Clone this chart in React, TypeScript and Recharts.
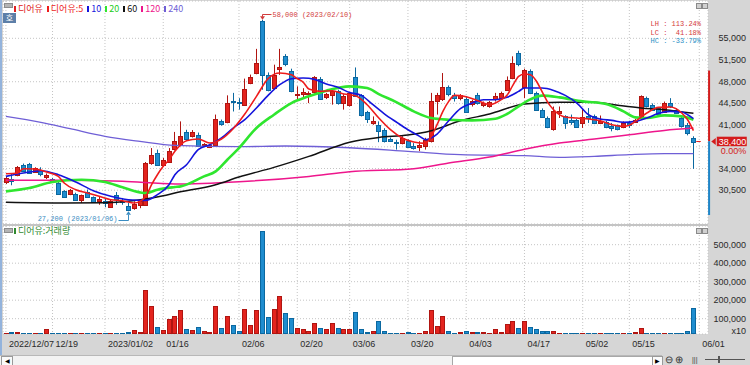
import {
  ComposedChart,
  Bar,
  Line,
  XAxis,
  YAxis,
  CartesianGrid,
  ReferenceDot,
  ReferenceLine,
} from "recharts";

// trading days (last two are empty future slots on the axis)
const dates = [
  "2022/12/07", "2022/12/08", "2022/12/09", "2022/12/12", "2022/12/13", "2022/12/14", "2022/12/15", "2022/12/16",
  "2022/12/19", "2022/12/20", "2022/12/21", "2022/12/22", "2022/12/23", "2022/12/26", "2022/12/27", "2022/12/28",
  "2022/12/29", "2023/01/02", "2023/01/03", "2023/01/04", "2023/01/05", "2023/01/06", "2023/01/09", "2023/01/10",
  "2023/01/11", "2023/01/12", "2023/01/13", "2023/01/16", "2023/01/17", "2023/01/18", "2023/01/19", "2023/01/20",
  "2023/01/25", "2023/01/26", "2023/01/27", "2023/01/30", "2023/01/31", "2023/02/01", "2023/02/02", "2023/02/03",
  "2023/02/06", "2023/02/07", "2023/02/08", "2023/02/09", "2023/02/10", "2023/02/13", "2023/02/14", "2023/02/15",
  "2023/02/16", "2023/02/17", "2023/02/20", "2023/02/21", "2023/02/22", "2023/02/23", "2023/02/24", "2023/02/27",
  "2023/02/28", "2023/03/02", "2023/03/03", "2023/03/06", "2023/03/07", "2023/03/08", "2023/03/09", "2023/03/10",
  "2023/03/13", "2023/03/14", "2023/03/15", "2023/03/16", "2023/03/17", "2023/03/20", "2023/03/21", "2023/03/22",
  "2023/03/23", "2023/03/24", "2023/03/27", "2023/03/28", "2023/03/29", "2023/03/30", "2023/03/31", "2023/04/03",
  "2023/04/04", "2023/04/05", "2023/04/06", "2023/04/07", "2023/04/10", "2023/04/11", "2023/04/12", "2023/04/13",
  "2023/04/14", "2023/04/17", "2023/04/18", "2023/04/19", "2023/04/20", "2023/04/21", "2023/04/24", "2023/04/25",
  "2023/04/26", "2023/04/27", "2023/04/28", "2023/05/02", "2023/05/03", "2023/05/04", "2023/05/08", "2023/05/09",
  "2023/05/10", "2023/05/11", "2023/05/12", "2023/05/15", "2023/05/16", "2023/05/17", "2023/05/18", "2023/05/19",
  "2023/05/22", "2023/05/23", "2023/05/24", "2023/05/25", "2023/05/26", "2023/05/30", "2023/05/31",
  "2023/06/01", "2023/06/02",
];

const opens = [
  31800, 32350, 32900, 34600, 34800, 33450, 33700, 32500, 32350, 31650,
  30400, 29900, 29900, 28800, 30150, 29350, 28800, 28800, 27900, 29750,
  28800, 28000, 27600, 28050, 28150, 34900, 36500, 34600, 35150, 37050,
  37850, 39900, 39200, 39450, 37750, 37500, 37750, 41600, 41500, 44950,
  44650, 44300, 47800, 49400, 57800, 49100, 47000, 50200, 52100, 49800,
  45900, 46100, 46000, 46350, 48500, 45450, 45900, 46450, 44550, 44300,
  48800, 45800, 43100, 41350, 41050, 40250, 38750, 38250, 38100, 38400,
  37700, 37500, 37750, 38400, 44850, 45100, 47100, 45900, 45250, 45250,
  44300, 45800, 44150, 44050, 45100, 45350, 46700, 48600, 52600, 47250,
  49800, 46200, 43500, 42150, 40250, 42800, 42400, 41850, 41850, 41350,
  42400, 42500, 41350, 41500, 40800, 40950, 40650, 41350, 41600, 42150,
  45350, 44300, 43750, 43100, 44550, 43500, 42150, 41050, 39000,
];

const highs = [
  32750, 33250, 34400, 34800, 34900, 34200, 34200, 33200, 32500, 31900,
  30500, 30700, 30100, 29800, 30600, 29500, 29500, 29250, 29000, 30200,
  29250, 28500, 28700, 29000, 35050, 37300, 37050, 35700, 37300, 39900,
  41600, 40250, 40200, 39800, 38100, 37900, 42700, 41900, 45800, 46200,
  45350, 48500, 49150, 53300, 58000, 49500, 50750, 53300, 52450, 50100,
  47250, 46950, 46450, 48900, 48750, 46200, 46850, 46700, 46000, 46350,
  50300, 46000, 43300, 42400, 41600, 40500, 39000, 38650, 39200, 38700,
  38100, 38400, 38950, 46200, 46200, 49400, 47400, 46200, 46000, 45700,
  45100, 46200, 44800, 44900, 46200, 46400, 48850, 52100, 53000, 50100,
  50000, 46400, 43700, 42400, 44000, 44000, 42600, 42700, 42000, 43750,
  43750, 42700, 42550, 41700, 41350, 41100, 41600, 41700, 42000, 45800,
  45600, 44500, 43900, 44800, 45350, 43700, 42300, 41350, 39200,
];

const lows = [
  31500, 31300, 32750, 33600, 33200, 33350, 32750, 32300, 31900, 29800,
  29300, 29700, 28900, 28450, 29300, 28500, 28150, 27750, 27700, 28150,
  28150, 27200, 27350, 27600, 28050, 34600, 34500, 34300, 35000, 36900,
  37600, 38600, 39000, 37600, 37500, 37300, 37500, 40900, 41300, 43200,
  43500, 44100, 47600, 49200, 46700, 46450, 46800, 49100, 50500, 46300,
  44950, 45350, 44550, 46100, 45100, 45200, 44300, 44300, 43500, 44000,
  45600, 42400, 41350, 41050, 38250, 38200, 38300, 37050, 37900, 37350,
  37050, 36800, 37050, 38200, 42700, 44900, 45650, 44800, 45000, 43000,
  44000, 44300, 43900, 43800, 44800, 45100, 46500, 48400, 50500, 45350,
  46000, 43300, 42200, 40500, 40100, 42150, 40400, 41050, 40600, 40550,
  41350, 41200, 41200, 40500, 40000, 40150, 40500, 40550, 41400, 41900,
  43850, 43300, 42650, 42950, 43750, 42800, 40600, 39350, 33950,
];

const closes = [
  32450, 32050, 34250, 33650, 33300, 34100, 33000, 32900, 32050, 29900,
  29400, 30600, 28950, 29650, 29350, 28600, 29050, 28450, 28800, 29150,
  28600, 27350, 28250, 28700, 34900, 36200, 34600, 35400, 36850, 38400,
  39300, 38800, 39900, 37750, 37950, 37750, 42000, 41150, 44500, 44750,
  44450, 46900, 48700, 51000, 49100, 46700, 49100, 50450, 50750, 46550,
  46000, 46350, 46150, 48700, 45250, 46000, 46550, 44550, 45650, 46200,
  45800, 42550, 42050, 41600, 40100, 38400, 38500, 38100, 38900, 37500,
  37400, 37750, 38650, 44850, 45800, 47100, 45900, 45350, 45800, 43200,
  44850, 44550, 44550, 44650, 45650, 46200, 48300, 51000, 50750, 49950,
  46200, 43500, 42400, 40650, 43200, 43200, 41350, 41500, 40800, 42250,
  42150, 41350, 41700, 40650, 40400, 40250, 41350, 41050, 41850, 45650,
  44000, 43500, 42800, 44550, 44000, 42950, 40800, 39700, 38400,
];

// volume in units of 10 shares (axis reads x10)
const volumes = [
  22000, 30000, 30000, 22000, 22000, 22000, 22000, 42000, 22000, 22000,
  22000, 22000, 22000, 22000, 22000, 22000, 22000, 20000, 22000, 22000,
  25000, 28000, 37000, 28000, 257000, 167000, 55000, 40000, 100000, 115000,
  149000, 44000, 40000, 53000, 35000, 26000, 167000, 50000, 113000, 64000,
  35000, 152000, 68000, 149000, 572000, 109000, 154000, 221000, 131000, 104000,
  50000, 44000, 35000, 77000, 50000, 46000, 77000, 50000, 44000, 46000,
  136000, 46000, 26000, 35000, 86000, 35000, 22000, 22000, 22000, 28000,
  20000, 22000, 32000, 149000, 59000, 113000, 35000, 24000, 26000, 32000,
  26000, 28000, 28000, 20000, 46000, 28000, 71000, 89000, 50000, 89000,
  53000, 46000, 32000, 35000, 35000, 24000, 20000, 20000, 20000, 20000,
  20000, 20000, 20000, 20000, 20000, 20000, 22000, 22000, 28000, 50000,
  24000, 20000, 22000, 22000, 20000, 22000, 24000, 32000, 158000,
];

// moving averages: [day index, value]
const ma5Pts = [
  [0, 33160], [2, 33270], [3, 33970], [5, 33920], [7, 33430], [9, 32730], [10, 31660], [12, 30580],
  [14, 30050], [16, 29510], [18, 28970], [20, 28810], [22, 28430], [23, 28700], [24, 29510], [25, 31390],
  [26, 33000], [27, 34350], [28, 35420], [29, 36770], [31, 38480], [33, 38760], [35, 38110], [37, 38760],
  [39, 40420], [41, 42790], [43, 45640], [45, 48490], [47, 49400], [49, 49130], [50, 48490], [51, 47950],
  [52, 46820], [54, 46440], [56, 46550], [58, 46010], [60, 45750], [62, 44290], [64, 42140], [66, 40260],
  [68, 38920], [70, 38270], [72, 38060], [73, 39190], [74, 41070], [75, 43220], [76, 44830], [77, 45800],
  [79, 45580], [81, 44940], [83, 44290], [85, 45100], [86, 45800], [87, 47410], [88, 48860], [89, 49240],
  [90, 49130], [91, 48160], [92, 46440], [93, 44670], [94, 43490], [96, 42300], [98, 42140], [100, 41980],
  [102, 41710], [104, 41070], [106, 40800], [107, 40960], [108, 41600], [110, 42950], [112, 43860],
  [114, 43920], [116, 42950], [117, 41870], [118, 40100],
];
const ma10Pts = [
  [0, 32730], [3, 33270], [6, 33650], [9, 33000], [12, 31820], [15, 30420], [18, 29510], [21, 28970],
  [24, 28860], [26, 29780], [28, 31390], [29, 32990], [31, 34610], [33, 37030], [35, 37840], [37, 38920],
  [39, 40530], [41, 41870], [43, 43760], [45, 45800], [47, 47520], [49, 48490], [51, 48600], [53, 48380],
  [55, 47630], [57, 47090], [59, 46260], [61, 45800], [63, 44290], [65, 42790], [67, 41500], [69, 40260],
  [71, 39190], [72, 38650], [74, 39560], [76, 41710], [78, 43650], [80, 44560], [82, 45100], [84, 45100],
  [86, 45480], [88, 46440], [89, 46980], [92, 46980], [94, 46600], [96, 45800], [98, 44560], [100, 42680],
  [102, 41980], [104, 41770], [106, 41440], [108, 41600], [110, 42140], [112, 42900], [114, 43220],
  [116, 43110], [117, 42680], [118, 42040],
];
const ma20Pts = [
  [0, 30310], [4, 30850], [8, 31820], [13, 32190], [17, 31820], [20, 30960], [23, 30150], [24, 30050],
  [26, 30580], [29, 31010], [30, 31120], [34, 32730], [36, 33540], [38, 35420], [40, 37300], [43, 40530],
  [46, 42680], [49, 44560], [52, 45640], [55, 46550], [59, 47250], [62, 46980], [64, 46010], [67, 44720],
  [70, 43220], [73, 42140], [76, 41870], [80, 41760], [84, 42030], [86, 42790], [88, 44030], [90, 45150],
  [92, 45750], [95, 45480], [99, 44830], [103, 44400], [106, 43220], [108, 42250], [110, 42140],
  [113, 42570], [116, 42410], [118, 41870],
];
const ma60Pts = [
  [0, 28540], [10, 28430], [17, 28480], [21, 28700], [24, 29080], [27, 29610], [29, 30045], [36, 31390],
  [40, 32620], [46, 34180], [52, 35960], [59, 38250], [64, 39020], [69, 39400], [73, 40100], [78, 41710],
  [83, 42790], [89, 44400], [95, 44670], [101, 44670], [105, 44190], [109, 43760], [113, 43490], [118, 42900],
];
const ma120Pts = [
  [0, 32090], [10, 32090], [20, 31930], [29, 31500], [40, 31870], [52, 32730], [59, 33480], [70, 33970],
  [76, 34880], [83, 35850], [89, 37100], [95, 38110], [101, 38760], [107, 39450], [113, 40150], [118, 40530],
];
const ma240Pts = [
  [0, 42410], [6, 41440], [11, 40420], [17, 39190], [23, 38380], [29, 37730], [40, 37520], [48, 37630],
  [59, 37350], [69, 36770], [78, 36230], [89, 36070], [95, 35800], [101, 35960], [107, 36230], [113, 36390],
  [118, 36390],
];

const dateTicks = [
  "2022/12/07", "2022/12/19", "2023/01/02", "2023/01/16", "2023/02/06", "2023/02/20", "2023/03/06",
  "2023/03/20", "2023/04/03", "2023/04/17", "2023/05/02", "2023/05/15", "2023/06/01",
];
const dateTickLabels = [
  "2022/12/07", "12/19", "2023/01/02", "01/16", "02/06", "02/20", "03/06",
  "03/20", "04/03", "04/17", "05/02", "05/15", "06/01",
];
const priceTicks = [30500, 34000, 37500, 41000, 44500, 48000, 51500, 55000];
const volumeTicks = [100000, 200000, 300000, 400000, 500000];

const highMark = { date: "2023/02/10", price: 58000, label: "58,000 (2023/02/10)" };
const lowMark = { date: "2023/01/06", price: 27200, label: "27,200 (2023/01/06)" };
const lastPrice = 38400;
const lastChange = "0.00%";
const rangeTop = 49800;
const rangeBottom = 26500;
const stats = [
  { name: "LH", value: "113.24%" },
  { name: "LC", value: " 41.18%" },
  { name: "HC", value: "-33.79%" },
];

const RED = "#e3241e";
const RED_EDGE = "#b01511";
const BLUE = "#1f8dcf";
const BLUE_EDGE = "#0b68a0";
const AXIS_FONT = "'Liberation Sans', Arial, sans-serif";
const KR_FONT = "'Noto Sans CJK KR', sans-serif";
const MONO = "'Liberation Mono', monospace";

const maLines = [
  { key: "ma240", pts: ma240Pts, color: "#6f5fd6", width: 1.3, label: "240" },
  { key: "ma120", pts: ma120Pts, color: "#ee168c", width: 1.5, label: "120" },
  { key: "ma60", pts: ma60Pts, color: "#111111", width: 1.5, label: "60" },
  { key: "ma20", pts: ma20Pts, color: "#2fe62f", width: 2.6, label: "20" },
  { key: "ma10", pts: ma10Pts, color: "#1414dc", width: 1.6, label: "10" },
  { key: "ma5", pts: ma5Pts, color: "#ee1c1c", width: 1.6, label: "디어유:5" },
];

const rows: any[] = dates.map((date, i) =>
  i < closes.length
    ? {
        date,
        open: opens[i],
        high: highs[i],
        low: lows[i],
        close: closes[i],
        range: [lows[i], highs[i]],
        volume: volumes[i],
      }
    : { date }
);
maLines.forEach((m) => m.pts.forEach(([i, v]) => (rows[i][m.key] = v)));

const Candle = (props: any) => {
  const { x, y, width, height, payload } = props;
  if (!payload || payload.close == null) return null;
  const up = payload.close >= payload.open;
  const k = height / (payload.high - payload.low);
  const cx = Math.round(x + width / 2);
  const top = y + (payload.high - Math.max(payload.open, payload.close)) * k;
  const bot = y + (payload.high - Math.min(payload.open, payload.close)) * k;
  const edge = up ? RED_EDGE : BLUE_EDGE;
  return (
    <g>
      <line x1={cx + 0.5} x2={cx + 0.5} y1={y} y2={y + height} stroke={edge} />
      <rect
        x={cx - 1.5}
        y={Math.round(top) + 0.5}
        width={4}
        height={Math.max(1, Math.round(bot - top))}
        fill={up ? RED : BLUE}
        stroke={edge}
      />
    </g>
  );
};

const VolumeBar = (props: any) => {
  const { x, y, width, height, payload } = props;
  if (!payload || payload.volume == null || height <= 0) return null;
  const up = payload.close >= payload.open;
  const cx = Math.round(x + width / 2);
  const top = Math.round(y);
  const bottom = Math.round(y + height);
  return (
    <rect
      x={cx - 1.5}
      y={top + 0.5}
      width={4}
      height={Math.max(0.5, bottom - top - 1)}
      fill={up ? RED : BLUE}
      stroke={up ? RED_EDGE : BLUE_EDGE}
    />
  );
};

const PriceTick = (p: any) => {
  // the current price box covers the nearest tick label
  if (Math.abs(p.payload.value - lastPrice) < 1500) return <g />;
  return (
    <text x={746} y={p.y + 3} textAnchor="end" fontSize={9} fontFamily={AXIS_FONT} fill="#2a2a2a">
      {p.payload.value.toLocaleString("en-US")}
    </text>
  );
};

const DateTick = (p: any) => (
  <text x={p.x + 3} y={p.y + 12.5} fontSize={9} fontFamily={AXIS_FONT} fill="#2a2a2a">
    {dateTickLabels[dateTicks.indexOf(p.payload.value)]}
  </text>
);

const HighTag = (p: any) => {
  const cx = Math.round(p.cx) + 0.5;
  const cy = p.cy;
  const ly = Math.round(cy - 6) + 0.5;
  return (
    <g>
      <path d={`M${cx + 9},${ly} H${cx} V${cy - 3}`} stroke="#d23b3b" fill="none" />
      <path d={`M${cx - 2.5},${cy - 3.5} L${cx + 2.5},${cy - 3.5} L${cx},${cy} Z`} fill="#d23b3b" />
      <text x={cx + 10} y={ly + 2.5} fontSize={7} fontFamily={MONO} fill="#d23b3b">
        {highMark.label}
      </text>
    </g>
  );
};

const LowTag = (p: any) => {
  const cx = Math.round(p.cx) + 0.5;
  const cy = p.cy;
  const ly = Math.round(cy + 9) + 0.5;
  return (
    <g>
      <path d={`M${cx - 10},${ly} H${cx} V${cy + 4}`} stroke="#3a8cc2" fill="none" />
      <path d={`M${cx - 2.5},${cy + 4} L${cx + 2.5},${cy + 4} L${cx},${cy + 0.5} Z`} fill="#3a8cc2" />
      <text x={cx - 11} y={ly} textAnchor="end" fontSize={7} fontFamily={MONO} fill="#3a8cc2">
        {lowMark.label}
      </text>
    </g>
  );
};

const LastPriceTag = (p: any) => {
  const cx = p.cx;
  const cy = Math.round(p.cy) + 0.5;
  return (
    <g>
      <line x1={cx - 3} x2={cx + 1.5} y1={cy} y2={cy} stroke="#e02020" />
      <path d={`M${cx + 12},${cy} L${cx + 16.5},${cy - 3.5} L${cx + 16.5},${cy + 3.5} Z`} fill="#d41c1c" />
      <rect x={cx + 17.5} y={cy - 4.8} width={30} height={9.5} fill="#d41c1c" />
      <text x={cx + 47} y={cy + 3.2} textAnchor="end" fontSize={9} fontFamily={AXIS_FONT} fill="#ffffff">
        {lastPrice.toLocaleString("en-US")}
      </text>
      <text x={cx + 47} y={cy + 12.8} textAnchor="end" fontSize={9} fontFamily={AXIS_FONT} fill="#d41c1c">
        {lastChange}
      </text>
    </g>
  );
};

const rangeShape = (color: string) => (p: any) =>
  <line x1={p.x1 + 4} x2={p.x2 + 4} y1={p.y1} y2={p.y2} stroke={color} strokeWidth={2} />;

const box = (style: any) => <div style={{ position: "absolute", ...style }} />;

const PanelButtons = ({ top }: { top: number }) => (
  <>
    {box({ left: 696, top, width: 4, height: 4, background: "#d0d0d0", border: "1px solid #8a8a8a" })}
    {box({ left: 702, top, width: 4, height: 4, background: "#d0d0d0", border: "1px solid #8a8a8a" })}
  </>
);

const App = () => {
  return (
    <div
      style={{
        position: "absolute",
        left: 0,
        top: 0,
        width: 750,
        height: 365,
        overflow: "hidden",
        background: "#d6d6d6",
        fontFamily: AXIS_FONT,
      }}
    >
      {box({ left: 0, top: 0, width: 2, height: 355, background: "#93b3dc" })}
      {box({ left: 3, top: 1, width: 705, height: 223, background: "#ffffff" })}
      {box({ left: 3, top: 224, width: 705, height: 2, background: "#c4c4c4" })}
      {box({ left: 3, top: 226, width: 705, height: 108, background: "#ffffff" })}

      <div style={{ position: "absolute", left: 0, top: 0 }}>
        <ComposedChart width={750} height={224} data={rows} margin={{ top: 1, right: 0, bottom: 0, left: 3 }}>
          <CartesianGrid stroke="#c4c4c4" strokeDasharray="1 2" />
          <XAxis dataKey="date" hide ticks={dateTicks} interval={0} />
          <YAxis
            orientation="right"
            width={42}
            domain={[25050, 61020]}
            allowDataOverflow
            ticks={priceTicks}
            interval={0}
            axisLine={false}
            tickLine={false}
            tick={PriceTick}
          />
          <Bar dataKey="range" barSize={5} shape={Candle} isAnimationActive={false} />
          {maLines.map((m) => (
            <Line
              key={m.key}
              dataKey={m.key}
              type="monotone"
              stroke={m.color}
              strokeWidth={m.width}
              dot={false}
              activeDot={false}
              connectNulls
              isAnimationActive={false}
            />
          ))}
          <ReferenceDot x={highMark.date} y={highMark.price} r={0} shape={HighTag} />
          <ReferenceDot x={lowMark.date} y={lowMark.price} r={0} shape={LowTag} />
          <ReferenceDot x={dates[closes.length]} y={lastPrice} r={0} ifOverflow="visible" shape={LastPriceTag} />
          <ReferenceLine
            segment={[{ x: dates[dates.length - 1], y: rangeTop }, { x: dates[dates.length - 1], y: lastPrice }]}
            ifOverflow="visible"
            shape={rangeShape("#d41c1c")}
          />
          <ReferenceLine
            segment={[{ x: dates[dates.length - 1], y: lastPrice }, { x: dates[dates.length - 1], y: rangeBottom }]}
            ifOverflow="visible"
            shape={rangeShape("#1f86c8")}
          />
        </ComposedChart>
      </div>

      <div style={{ position: "absolute", left: 0, top: 226 }}>
        <ComposedChart width={750} height={130} data={rows} margin={{ top: 0, right: 0, bottom: 0, left: 3 }}>
          <CartesianGrid stroke="#c4c4c4" strokeDasharray="1 2" />
          <XAxis
            dataKey="date"
            ticks={dateTicks}
            interval={0}
            height={22}
            axisLine={false}
            tickLine={false}
            tickSize={0}
            tickMargin={0}
            tick={DateTick}
          />
          <YAxis
            orientation="right"
            width={42}
            domain={[17200, 601000]}
            allowDataOverflow
            ticks={volumeTicks}
            interval={0}
            axisLine={false}
            tickLine={false}
            tick={PriceTick}
          />
          <Bar dataKey="volume" barSize={5} shape={VolumeBar} isAnimationActive={false} />
        </ComposedChart>
      </div>

      {/* main panel legend */}
      {box({ left: 4, top: 3, width: 7, height: 3, background: "#b4b4b4", border: "1px solid #8c8c8c" })}
      <div
        style={{
          position: "absolute",
          left: 14,
          top: 3,
          height: 12,
          display: "flex",
          alignItems: "center",
          fontFamily: KR_FONT,
          fontSize: 9,
          lineHeight: "12px",
          whiteSpace: "nowrap",
        }}
      >
        {[{ label: "디어유", color: "#e02020" }, ...maLines.slice().reverse().map((m) => ({ label: m.label, color: m.color }))].map(
          (it) => (
            <span key={it.label} style={{ display: "flex", alignItems: "center", marginRight: 4, color: it.color === "#2fe62f" ? "#22cc22" : it.color }}>
              <span style={{ width: 2, height: 6, background: it.color, marginRight: 2 }} />
              {it.label}
            </span>
          )
        )}
      </div>
      <div
        style={{
          position: "absolute",
          left: 3,
          top: 13,
          width: 13,
          height: 10,
          background: "#5d7fa8",
          color: "#ffffff",
          fontFamily: KR_FONT,
          fontSize: 8,
          lineHeight: "10px",
          textAlign: "center",
        }}
      >
        호
      </div>
      <div
        style={{
          position: "absolute",
          right: 49,
          top: 20,
          fontFamily: MONO,
          fontSize: 7,
          lineHeight: "8.5px",
          textAlign: "right",
          whiteSpace: "pre",
        }}
      >
        {stats.map((s) => (
          <div key={s.name} style={{ color: s.value.trim().startsWith("-") ? "#2a90c6" : "#d43a3a" }}>
            {`${s.name} : ${s.value}`}
          </div>
        ))}
      </div>
      <PanelButtons top={3} />

      {/* volume panel legend */}
      {box({ left: 4, top: 228, width: 7, height: 3, background: "#b4b4b4", border: "1px solid #8c8c8c" })}
      <div
        style={{
          position: "absolute",
          left: 14,
          top: 225,
          height: 12,
          display: "flex",
          alignItems: "center",
          fontFamily: KR_FONT,
          fontSize: 9,
          lineHeight: "12px",
          color: "#2f8a2f",
          whiteSpace: "nowrap",
        }}
      >
        <span style={{ width: 2, height: 6, background: "#2f8a2f", marginRight: 2 }} />
        디어유:거래량
      </div>
      <PanelButtons top={228} />
      <div style={{ position: "absolute", right: 4, top: 326, fontSize: 9, color: "#2a2a2a" }}>x10</div>

      {/* scroll bar row */}
      {box({ left: 0, top: 355, width: 662, height: 10, background: "#f3f3f3", borderTop: "1px solid #b8b8b8" })}
      {box({ left: 452, top: 356, width: 199, height: 8, background: "#ffffff", border: "1px solid #a8a8a8" })}
      <div style={{ position: "absolute", left: 1, top: 356, width: 10, height: 8, border: "1px solid #9a9a9a", background: "#fafafa", fontSize: 6, lineHeight: "8px", textAlign: "center" }}>◀</div>
      <div style={{ position: "absolute", left: 652, top: 356, width: 9, height: 8, border: "1px solid #9a9a9a", background: "#fafafa", fontSize: 6, lineHeight: "8px", textAlign: "center" }}>▶</div>
      <div style={{ position: "absolute", left: 665, top: 354, fontSize: 10, lineHeight: "11px", color: "#333", letterSpacing: 2 }}>⊖⊕</div>
      <div style={{ position: "absolute", left: 692, top: 355, fontSize: 7, lineHeight: "9px", color: "#333" }}>|||</div>
      {box({ left: 705, top: 359, width: 40, height: 1, background: "#555" })}
      {box({ left: 718, top: 356, width: 2, height: 7, background: "#555" })}
    </div>
  );
};

export default App;
